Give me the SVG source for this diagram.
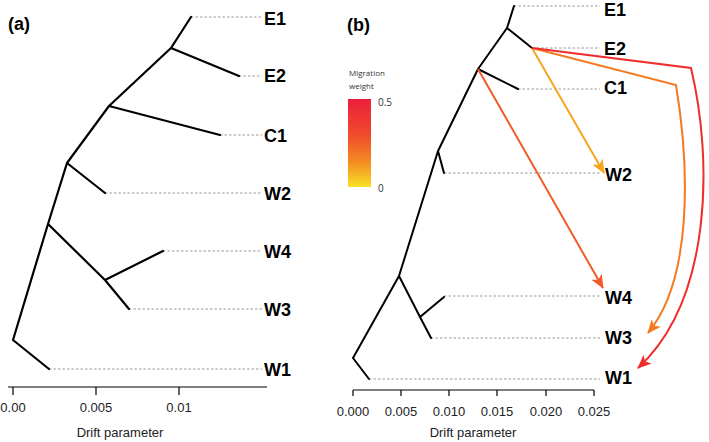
<svg xmlns="http://www.w3.org/2000/svg" width="709" height="442" viewBox="0 0 709 442">
<style>
.tree{fill:none;stroke:#000;stroke-width:2.2;stroke-linecap:round;stroke-linejoin:round}
.treeb{fill:none;stroke:#000;stroke-width:2;stroke-linecap:round;stroke-linejoin:round}
.dash{fill:none;stroke:#9a9a9a;stroke-width:1;stroke-dasharray:2.5 2}
.axis{fill:none;stroke:#000;stroke-width:1.2}
.lab{font-family:"Liberation Sans",Arial,sans-serif;font-weight:bold;font-size:18px;fill:#000}
.tick{font-family:"Liberation Sans",Arial,sans-serif;font-size:13px;fill:#222;text-anchor:middle}
.panel{font-family:"Liberation Sans",Arial,sans-serif;font-weight:bold;font-size:18px;fill:#000}
.leg{font-family:"Open Sans","Noto Sans",sans-serif;font-size:8px;fill:#333}
.legn{font-family:"Open Sans","Noto Sans",sans-serif;font-size:10px;fill:#333}
.mig{fill:none;stroke-width:2;stroke-linejoin:miter}
</style>
<defs>
<linearGradient id="grad" x1="0" y1="0" x2="0" y2="1">
<stop offset="0" stop-color="#ED1F3C"/>
<stop offset="0.4" stop-color="#EF4A2D"/>
<stop offset="0.72" stop-color="#F58C22"/>
<stop offset="1" stop-color="#F8E125"/>
</linearGradient>
<marker id="ahY" viewBox="0 0 14 12" refX="13" refY="6" markerWidth="14" markerHeight="12" markerUnits="userSpaceOnUse" orient="auto"><path d="M0,0 L14,6 L0,12 L3.5,6 z" fill="#F6A51F"/></marker>
<marker id="ahR" viewBox="0 0 14 12" refX="13" refY="6" markerWidth="14" markerHeight="12" markerUnits="userSpaceOnUse" orient="auto"><path d="M0,0 L14,6 L0,12 L3.5,6 z" fill="#F15A29"/></marker>
<marker id="ahO" viewBox="0 0 14 12" refX="13" refY="6" markerWidth="14" markerHeight="12" markerUnits="userSpaceOnUse" orient="auto"><path d="M0,0 L14,6 L0,12 L3.5,6 z" fill="#F47A21"/></marker>
<marker id="ahRR" viewBox="0 0 14 12" refX="13" refY="6" markerWidth="14" markerHeight="12" markerUnits="userSpaceOnUse" orient="auto"><path d="M0,0 L14,6 L0,12 L3.5,6 z" fill="#EE2E2B"/></marker>
</defs>
<rect width="709" height="442" fill="#fff"/>

<!-- Panel (a) -->
<text class="panel" x="8" y="30">(a)</text>
<g id="a-connectors">
<path class="dash" d="M191,17H262M239,76H262M220,135H262M105,193H262M163,251H262M129,309H262M49,369H262"/>
<path class="tree" d="M191,17L171,48L239,76M171,48L109,106L220,135M109,106L67,163L105,193M67,163L48,224L105,280L163,251M105,280L129,309M48,224L13,340L49,369"/>
</g>
<g id="a-E1"><text class="lab" x="264" y="25">E1</text></g>
<g id="a-E2"><text class="lab" x="264" y="82">E2</text></g>
<g id="a-C1"><text class="lab" x="264" y="142">C1</text></g>
<g id="a-W2"><text class="lab" x="264" y="200">W2</text></g>
<g id="a-W4"><text class="lab" x="264" y="258">W4</text></g>
<g id="a-W3"><text class="lab" x="264" y="316">W3</text></g>
<g id="a-W1"><text class="lab" x="264" y="376">W1</text></g>
<g id="a-axis">
<path class="axis" d="M8,387H267M13,387V395M96,387V395M179,387V395"/>
<text class="tick" x="13" y="412">0.00</text>
<text class="tick" x="96" y="412">0.005</text>
<text class="tick" x="179" y="412">0.01</text>
<text class="tick" x="120" y="437">Drift parameter</text>
</g>

<!-- Panel (b) -->
<text class="panel" x="347" y="31">(b)</text>
<g id="legend">
<text class="leg" x="349" y="76">Migration</text>
<text class="leg" x="349" y="89">weight</text>
<rect x="348" y="99" width="23" height="88" fill="url(#grad)"/>
<text class="legn" x="378" y="106">0.5</text>
<text class="legn" x="378" y="192">0</text>
</g>
<g id="b-connectors">
<path class="dash" d="M514,6H600M532,48H600M518,89H600M444,173H600M444,296H600M431,338H600M369,379H600"/>
<path class="treeb" d="M514,6L507,28L532,48M507,28L478,69L518,89M478,69L438,151L444,173M438,151L399,276L420,317L444,297M420,317L431,338M399,276L353,358L369,379"/>
<path class="mig" stroke="#F6A51F" d="M532,48L604,173" marker-end="url(#ahY)"/>
<path class="mig" stroke="#F15A29" d="M478,69L603,288" marker-end="url(#ahR)"/>
<path class="mig" stroke="#F47A21" d="M532,48L676,85C690,170 692,280 648,333" marker-end="url(#ahO)"/>
<path class="mig" stroke="#EE2E2B" d="M532,48L691,68C713,160 712,300 638,368" marker-end="url(#ahRR)"/>
</g>
<g id="b-E1"><text class="lab" x="604" y="16">E1</text></g>
<g id="b-E2"><text class="lab" x="604" y="55">E2</text></g>
<g id="b-C1"><text class="lab" x="604" y="94">C1</text></g>
<g id="b-W2"><text class="lab" x="605" y="181">W2</text></g>
<g id="b-W4"><text class="lab" x="605" y="304">W4</text></g>
<g id="b-W3"><text class="lab" x="605" y="344">W3</text></g>
<g id="b-W1"><text class="lab" x="605" y="384">W1</text></g>
<g id="b-axis">
<path class="axis" d="M353,390H594M353,390V396M401,390V396M449,390V396M497,390V396M546,390V396M594,390V396"/>
<text class="tick" x="353" y="416">0.000</text>
<text class="tick" x="401" y="416">0.005</text>
<text class="tick" x="449" y="416">0.010</text>
<text class="tick" x="497" y="416">0.015</text>
<text class="tick" x="546" y="416">0.020</text>
<text class="tick" x="594" y="416">0.025</text>
<text class="tick" x="473" y="437">Drift parameter</text>
</g>
</svg>
